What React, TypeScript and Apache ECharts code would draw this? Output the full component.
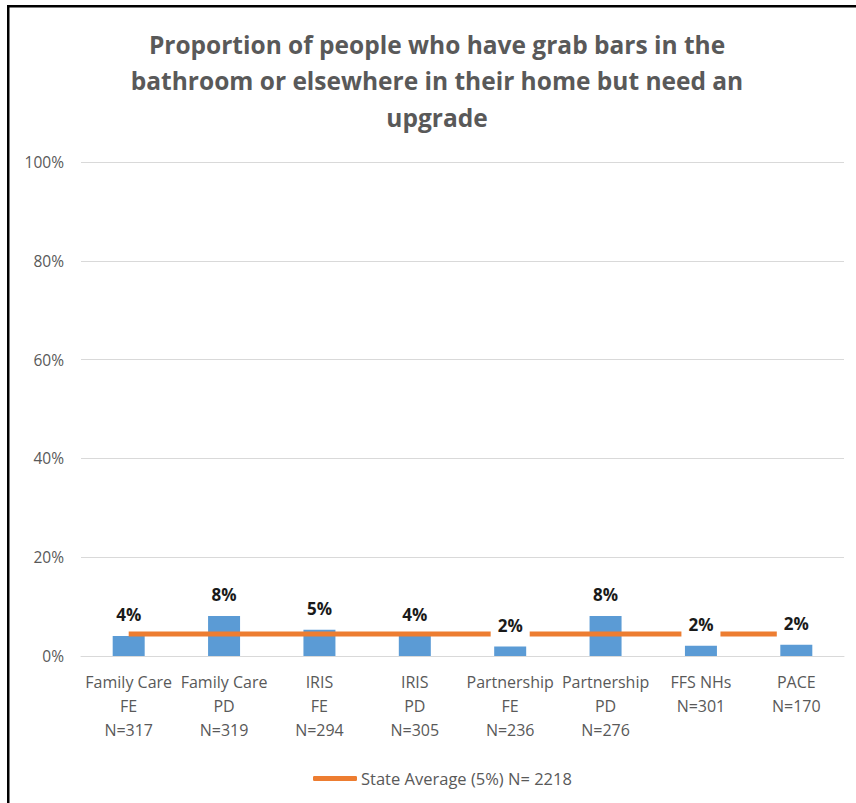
import React, { useEffect, useRef } from "react";
import * as echarts from "echarts";

const categories = [
  "Family Care\nFE\nN=317",
  "Family Care\nPD\nN=319",
  "IRIS\nFE\nN=294",
  "IRIS\nPD\nN=305",
  "Partnership\nFE\nN=236",
  "Partnership\nPD\nN=276",
  "FFS NHs\nN=301",
  "PACE\nN=170",
];
const barValues = [4.05, 8.1, 5.3, 4.2, 1.9, 8.1, 2.1, 2.3];
const barLabels = ["4%", "8%", "5%", "4%", "2%", "8%", "2%", "2%"];
const stateAverage = [4.45, 4.45, 4.45, 4.45, 4.45, 4.45, 4.45, 4.45];
const stateAverageName = "State Average (5%) N= 2218";
const yTicks = [0, 20, 40, 60, 80, 100];

const FONT = "'Open Sans', sans-serif";
const GRAY = "#595959";

export default function App() {
  const ref = useRef<HTMLDivElement>(null);
  useEffect(() => {
    document.body.style.margin = "0";
    if (!ref.current) return;
    const chart = echarts.init(ref.current, undefined, { renderer: "svg" });
    chart.setOption({
      animation: false,
      backgroundColor: "#ffffff",
      textStyle: { fontFamily: FONT },
      title: {
        text:
          "Proportion of people who have grab bars in the\nbathroom or elsewhere in their home but need an\nupgrade",
        left: 437,
        top: 26,
        padding: 0,
        textAlign: "center",
        textStyle: {
          fontFamily: FONT,
          fontWeight: "bold",
          fontSize: 24.5,
          lineHeight: 36.5,
          color: GRAY,
        },
      },
      grid: { left: 81, right: 12, top: 162, bottom: 147, containLabel: false },
      legend: {
        data: [{ name: stateAverageName, icon: "roundRect" }],
        left: 308,
        top: 765,
        itemWidth: 44,
        itemHeight: 5,
        itemGap: 10,
        textStyle: { fontFamily: FONT, fontSize: 16.5, color: GRAY, padding: [0, 0, 0, -1] },
      },
      xAxis: {
        type: "category",
        data: categories,
        axisTick: { show: false },
        axisLine: { lineStyle: { color: "#D9D9D9", width: 1 } },
        axisLabel: {
          interval: 0,
          margin: 14,
          fontFamily: FONT,
          fontSize: 16,
          lineHeight: 24,
          color: GRAY,
        },
      },
      yAxis: {
        type: "value",
        min: yTicks[0],
        max: yTicks[yTicks.length - 1],
        interval: 20,
        axisLabel: {
          formatter: "{value}%",
          margin: 17,
          fontFamily: FONT,
          fontSize: 15.5,
          color: GRAY,
        },
        axisLine: { show: false },
        axisTick: { show: false },
        splitLine: { lineStyle: { color: "#D9D9D9", width: 1 } },
      },
      series: [
        {
          type: "bar",
          name: "Proportion",
          data: barValues,
          barWidth: 32,
          itemStyle: { color: "#5B9BD5" },
          z: 2,
        },
        {
          type: "line",
          name: stateAverageName,
          data: stateAverage,
          symbol: "none",
          lineStyle: { color: "#ED7D31", width: 5, cap: "butt" },
          itemStyle: { color: "#ED7D31" },
          z: 3,
        },
        {
          type: "scatter",
          name: "labels",
          data: barValues,
          symbol: "rect",
          symbolSize: 1,
          silent: true,
          z: 5,
          itemStyle: { color: "rgba(0,0,0,0)", opacity: 1 },
          label: {
            show: true,
            position: "top",
            distance: 7,
            formatter: (p: any) => barLabels[p.dataIndex],
            backgroundColor: "#ffffff",
            padding: [2, 7, 5, 7],
            fontFamily: FONT,
            fontWeight: "bold",
            fontSize: 17,
            color: "#1a1a1a",
            opacity: 1,
          },
        },
      ],
      graphic: [
        {
          type: "rect",
          shape: { x: 7, y: 5, width: 849, height: 2.5 },
          style: { fill: "#000000" },
          silent: true,
        },
        {
          type: "rect",
          shape: { x: 7, y: 5, width: 2.5, height: 798 },
          style: { fill: "#000000" },
          silent: true,
        },
      ],
    });
    return () => chart.dispose();
  }, []);
  return <div ref={ref} style={{ width: 856, height: 803 }} />;
}
